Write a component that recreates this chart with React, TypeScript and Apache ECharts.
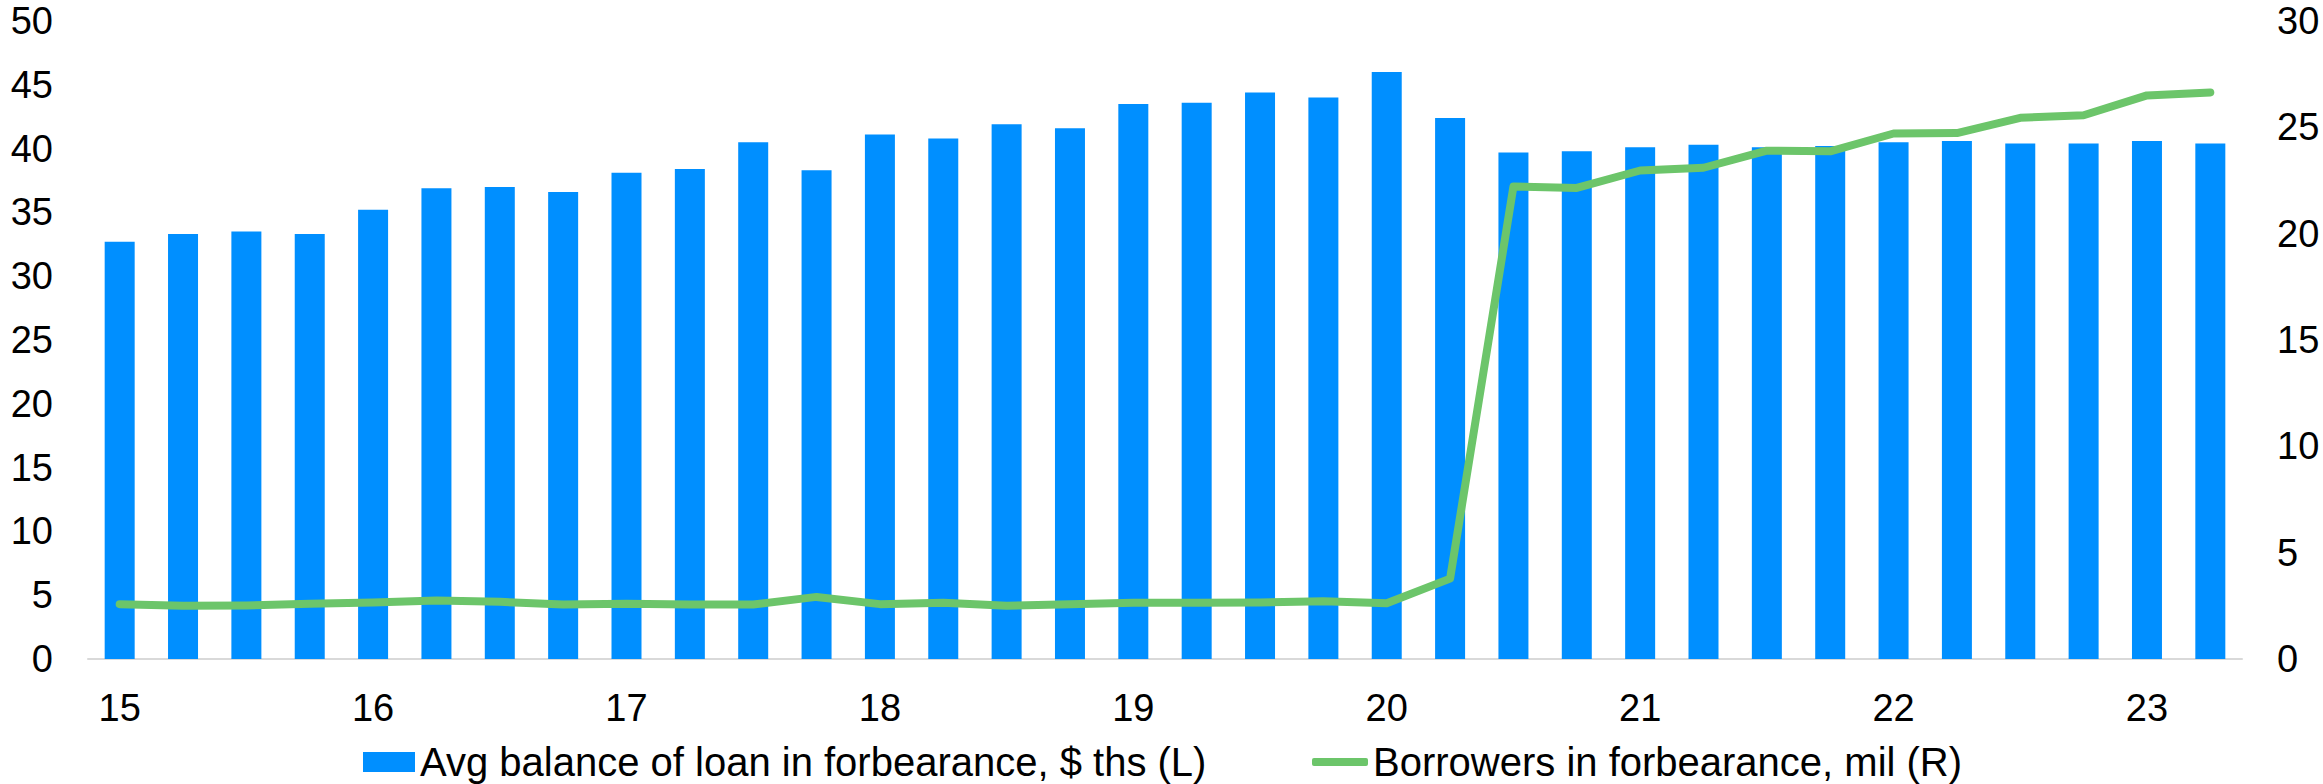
import React, { useEffect, useRef } from "react";
import * as echarts from "echarts";

const quarters: string[] = [
  "15Q1", "15Q2", "15Q3", "15Q4",
  "16Q1", "16Q2", "16Q3", "16Q4",
  "17Q1", "17Q2", "17Q3", "17Q4",
  "18Q1", "18Q2", "18Q3", "18Q4",
  "19Q1", "19Q2", "19Q3", "19Q4",
  "20Q1", "20Q2", "20Q3", "20Q4",
  "21Q1", "21Q2", "21Q3", "21Q4",
  "22Q1", "22Q2", "22Q3", "22Q4",
  "23Q1", "23Q2",
];

const avgBalance: number[] = [
  32.7, 33.3, 33.5, 33.3, 35.2, 36.9, 37.0, 36.6, 38.1, 38.4, 40.5,
  38.3, 41.1, 40.8, 41.9, 41.6, 43.5, 43.6, 44.4, 44.0, 46.0, 42.4, 39.7,
  39.8, 40.1, 40.3, 40.1, 40.2, 40.5, 40.6, 40.4, 40.4, 40.6, 40.4,
];

const borrowers: number[] = [
  2.58, 2.5, 2.52, 2.6, 2.66, 2.75, 2.69, 2.56, 2.6, 2.56, 2.56,
  2.92, 2.58, 2.64, 2.5, 2.58, 2.64, 2.64, 2.66, 2.71, 2.62, 3.78, 22.22,
  22.15, 22.97, 23.1, 23.9, 23.87, 24.71, 24.73, 25.45, 25.57, 26.5, 26.64,
];

const leftTicks = { min: 0, max: 50, interval: 5 };
const rightTicks = { min: 0, max: 30, interval: 5 };

const barName = "Avg balance of loan in forbearance, $ ths (L)";
const lineName = "Borrowers in forbearance, mil (R)";

const FONT = 'Arial, "Liberation Sans", sans-serif';
const BLUE = "#008FFF";
const GREEN = "#6CC56A";

export default function App() {
  const ref = useRef<HTMLDivElement>(null);
  useEffect(() => {
    if (!ref.current) return;
    const chart = echarts.init(ref.current, undefined, { renderer: "svg" });
    chart.setOption({
      animation: false,
      backgroundColor: "#ffffff",
      textStyle: { fontFamily: FONT },
      grid: { left: 88, right: 81, top: 21, bottom: 125, containLabel: false },
      legend: [
        {
          data: [{ name: barName, icon: "rect" }],
          left: 358,
          top: 737,
          itemWidth: 52,
          itemHeight: 20,
          textStyle: { fontSize: 40, lineHeight: 40, color: "#000", fontFamily: FONT },
        },
        {
          data: [{ name: lineName, icon: "roundRect" }],
          left: 1307,
          top: 737,
          itemWidth: 56,
          itemHeight: 8,
          textStyle: { fontSize: 40, lineHeight: 40, color: "#000", fontFamily: FONT },
        },
      ],
      xAxis: {
        type: "category",
        data: quarters,
        boundaryGap: true,
        axisLine: { show: true, lineStyle: { color: "#d9d9d9", width: 2 } },
        axisTick: { show: false },
        axisLabel: {
          interval: 3,
          margin: 30,
          fontSize: 38,
          color: "#000",
          fontFamily: FONT,
          formatter: (v: string) => v.slice(0, 2),
        },
        splitLine: { show: false },
      },
      yAxis: [
        {
          type: "value",
          position: "left",
          ...leftTicks,
          axisLine: { show: false },
          axisTick: { show: false },
          splitLine: { show: false },
          axisLabel: { fontSize: 38, color: "#000", margin: 35, fontFamily: FONT },
        },
        {
          type: "value",
          position: "right",
          ...rightTicks,
          axisLine: { show: false },
          axisTick: { show: false },
          splitLine: { show: false },
          axisLabel: { fontSize: 38, color: "#000", margin: 35, fontFamily: FONT },
        },
      ],
      series: [
        {
          name: barName,
          type: "bar",
          yAxisIndex: 0,
          data: avgBalance,
          barWidth: 30,
          itemStyle: { color: BLUE },
        },
        {
          name: lineName,
          type: "line",
          yAxisIndex: 1,
          data: borrowers,
          symbol: "none",
          smooth: false,
          lineStyle: { color: GREEN, width: 8, cap: "round", join: "round" },
          itemStyle: { color: GREEN },
        },
      ],
    });
    return () => chart.dispose();
  }, []);
  return (
    <div
      ref={ref}
      style={{ position: "fixed", left: 0, top: 0, width: 2323, height: 784 }}
    />
  );
}
